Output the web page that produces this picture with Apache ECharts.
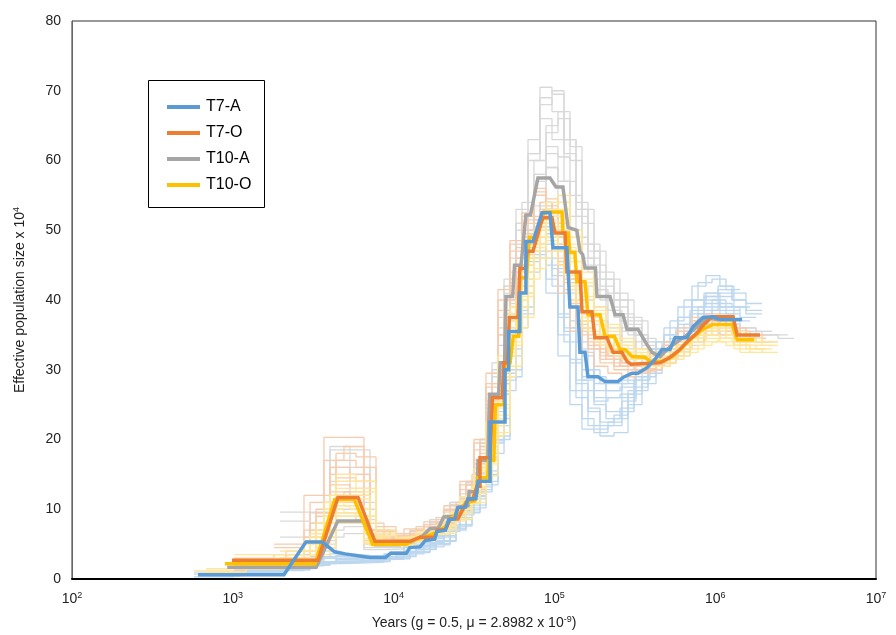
<!DOCTYPE html>
<html><head><meta charset="utf-8">
<script src="https://cdn.jsdelivr.net/npm/echarts@6/dist/echarts.min.js"></script>
<style>html,body{margin:0;padding:0;background:#fff}#c{width:896px;height:635px}</style>
</head><body><div id="c"></div>
<script>
// ---------- DATA ----------
const seriesNames = ['T7-A', 'T7-O', 'T10-A', 'T10-O'];
const xTickExponents = [2, 3, 4, 5, 6, 7];
const yTicks = [0, 10, 20, 30, 40, 50, 60, 70, 80];

// main PSMC curves: [years, Ne x 10^4]
const t7A = [[608,0.6],[2080,0.6],[2850,5.3],[3600,5.3],[4300,3.9],[5000,3.6],[7100,3.1],[8900,3.1],[9600,3.7],[12000,3.7],[12600,4.5],[14600,4.6],[15700,5.5],[18000,5.7],[18600,6.8],[21000,7.0],[22000,8.5],[24000,8.6],[25100,10.2],[28000,10.3],[29000,11.5],[32500,11.5],[33500,14.0],[39800,14.0],[39800,22.5],[49300,22.5],[49300,30],[52000,30],[52000,35.5],[61000,35.5],[61000,41],[66500,41],[66500,48.4],[73600,48.4],[83800,52.5],[93900,52.5],[98000,47.5],[119700,47.5],[124900,39],[140200,39],[144100,32.5],[155000,32.5],[161700,29],[186600,29],[206400,28.3],[248600,28.3],[267000,28.9],[304000,29.5],[331000,29.5],[376400,30.3],[422500,31.5],[466900,32.9],[523800,32.9],[562300,34.6],[668100,34.6],[728100,36.2],[839900,37.5],[968700,37.6],[1071000,37.2],[1469000,37.2]];
const t7O = [[988,2.7],[3390,2.7],[4508,11.7],[6009,11.7],[7659,5.4],[12650,5.4],[14600,6.0],[18000,6.0],[18700,7.0],[21000,7.1],[22500,8.6],[25100,8.6],[29000,11.4],[31000,11.4],[33000,13.3],[34470,13.3],[34470,17.4],[39810,17.4],[41200,26],[47400,26],[48500,31],[51000,31],[52500,37.5],[59400,37.5],[61000,44.5],[66000,44.5],[67500,47],[73600,47],[81300,50.5],[84900,51.8],[96600,51.8],[100900,49.6],[116400,49.6],[119700,44],[144100,44],[148500,38.3],[171300,38.3],[178600,34.6],[212200,34.6],[231400,32.5],[263000,32.5],[282600,31.2],[300000,30.8],[454000,31],[523800,31.8],[604300,32.9],[668100,34],[771700,35.3],[828300,36.2],[955600,37.6],[1291000,37.6],[1370000,35],[1899000,35]];
const t10A = [[923,1.7],[3300,1.7],[4500,8.3],[6460,8.3],[7660,4.9],[10970,4.9],[13000,5.4],[15200,6.2],[16800,7.2],[19000,7.3],[20500,8.9],[24000,9.0],[25100,10.3],[29000,10.5],[29500,12.5],[33000,12.5],[33500,17],[38500,17],[39500,26.5],[45000,26.5],[46000,31],[49000,31],[50000,40.5],[55000,40.5],[56500,45],[62000,45],[66500,52.2],[71000,52.2],[79000,57.5],[93900,57.5],[102300,56.2],[113000,56.2],[121600,50.4],[138000,50],[144100,47],[150000,46.5],[155000,44.6],[180000,44.6],[184000,40.5],[221800,40.5],[238300,37.9],[267000,37.9],[282600,35.8],[331000,35.8],[376400,33.6],[404800,32.5],[454000,31.9],[523800,33.3],[668100,35],[804200,36.5],[901000,37.5],[1025000,37.2],[1327000,37.2]];
const t10O = [[893,2.2],[3250,2.2],[4300,11.4],[5700,11.4],[7400,5.0],[12000,5.0],[13500,5.6],[16000,6.1],[18500,6.7],[21000,7.5],[23000,8.8],[26000,9.5],[28000,11],[32000,11.2],[33500,14.5],[38500,14.5],[39000,17],[42000,17],[43000,25],[48500,25],[49500,31],[53000,31],[55500,34.8],[60000,34.8],[61000,43.2],[67000,43.2],[70000,49],[78000,49],[86000,52.6],[111500,52.6],[113000,49.6],[121600,49.6],[124900,46.8],[134000,46.8],[138000,42.6],[155000,42.6],[161700,37.9],[192200,37.9],[206400,34.8],[236000,34.8],[255900,32.9],[274800,32.9],[304000,31.9],[365700,31.8],[393500,31.2],[473600,31.2],[545400,31.9],[629800,33.3],[697200,34.3],[839900,35.8],[968700,36.5],[1273000,36.5],[1370000,34.3],[1750000,34.3]];

// bootstrap time grids (years, interval boundaries)
const gridA = [625,1109,1966,3022,4022,5355,7132,9497,12650,16840,22420,28200,34460,40930,48610,57700,68520,81350,96620,114700,136200,161800,192100,234800,286900,350500,428400,523700,639700,782000,955600,1167000,1426000,1794000,2256000,2837000];
const gridB = [681,1209,2143,3294,4384,5837,7774,10350,13790,18360,24440,30740,37560,44610,52980,62890,74690,88670,105300,125000,148500,176400,209400,255900,312700,382000,466900,570800,697300,852400,1042000,1272000,1554000,1956000,2459000,3092000];
const gridC = [573,1017,1803,2771,3688,4911,6540,8709,11600,15440,20560,25860,31600,37530,44580,52910,62830,74600,88600,105200,124900,148400,176200,215300,263100,321400,392800,480200,586600,717100,876300,1070000,1308000,1645000,2069000,2601000];

// bootstrap Ne values per interval
const bootT7A = [
[0.5,0.9,1.5,2.2,2.6,2.7,2.8,3.2,4.2,5.4,7.6,10.2,13.5,20,29,38,46,50,44,36,29,25,23,24,27,29.5,32,34.5,37,39.5,41,40],
[null,1.2,1.8,2.6,3.0,3.1,3.0,3.5,4.5,5.8,8.2,11,14.5,21.5,31,40,47.5,51,46,38,31,27,25.5,26,28,30,33,36,39,42,43.5,42,39],
[0.8,1.0,1.4,2.0,2.3,2.4,2.5,2.9,3.8,4.9,7,9.5,12.5,18,27,36,44,48,42,34,26,22,20.5,21,25,28,31,33.5,35.5,38,39,38.5],
[null,null,2.0,3.0,3.4,3.3,3.2,3.8,4.8,6.2,8.8,11.8,15.5,23,33,42,49,53,48,40,33,29,27,27.5,29,31,33.5,36,38.5,40.5,41.5,40,38.5],
[0.3,0.7,1.2,1.9,2.2,2.3,2.4,2.8,3.6,4.6,6.8,9.2,12,17.5,26.5,35,43,47,41,32,25,21.5,21,22.5,26,29.5,32.5,35,37.5,40,40.5,39,37],
[null,1.4,2.2,3.2,3.6,3.4,3.3,3.9,5,6.4,9,12.3,16,24,34,43,50,54,49,41,34,30,28,28,29.5,31.5,34,37,40,42.5,43,41.5],
[0.6,1.1,1.6,2.4,2.8,2.9,2.9,3.3,4.3,5.5,7.8,10.6,14,20.5,30,39,46.5,49.5,45,37,30,26,24,24.5,27.5,30,32,34,36,38.5,39.5,39,38],
[null,0.9,1.5,2.3,2.5,2.6,2.7,3.1,4.0,5.2,7.4,9.8,13,19,28,37,45,48,43,35,27,23,21.5,22,25.5,28.5,31.5,34,36.5,39,40,38],
[0.4,0.8,1.3,2.0,2.4,2.5,2.6,3.0,3.9,5.0,7.2,9.6,12.8,19.5,28.5,37.5,45.5,49,43.5,35.5,28,24,22,23,26.5,29,31,33,35,37.5,38.5,38],
[null,1.0,1.7,2.5,2.9,3.0,3.1,3.6,4.6,6.0,8.5,11.5,15,22,32,41,48,52,47,39,32,28,26,26.5,28.5,30.5,33,35.5,38,41,42,41,39.5],
[0.7,1.3,2.0,2.8,3.2,3.2,3.1,3.6,4.7,6.1,8.6,11.6,15.2,22.5,33.5,42.5,49.5,51.5,45,37.5,31.5,28.5,27,27,28.5,30.5,32.5,35,37.5,40,41,40.5],
[null,null,1.3,2.1,2.4,2.5,2.6,3.0,3.9,5.1,7.3,9.9,13.2,19.8,29.5,38.5,46,50.5,44.5,36,28.5,24.5,22.5,23.5,27,30,32.5,34.5,36.5,39,40,39,37.5]
];
const bootT7O = [
[null,2.0,2.5,12,20.3,20.3,7,6,6.5,7.8,10,13.5,19.5,28,40,48,52,55,52,45,39,35,33,32,31,31,32,33.5,35.5,37,37.5,36.5,35,34.5],
[null,1.5,2,8,15,14,6,5.5,6.2,7.2,9.5,12.5,18,26.5,38,46,50,53,50,43,37,34,32,31,30.5,30.5,31.5,33,35,36.5,37,36,34.5],
[1.2,1.8,3.5,10,17,16,7,6.2,7,8,10.5,14,20,29,41,48,51,53.5,49,42,36,33,31.5,30.5,30,30,31,32.5,34,35.5,36,35,34],
[null,null,4.5,6,12,12.5,6.5,5.8,6.5,7.5,9.8,12.8,18.5,27.5,38.5,47,51,56,53,46,40,36,34,32.5,31.5,31.5,32.5,34,36,37.5,38,37,35.5,35],
[null,2.5,3,7,13.5,13,6,5.2,6,7,9.2,12,17,25.5,36,44,48.5,51,48,41.5,36,33,31,30,29.5,29.8,30.5,32,34,35.5,36.5,35.5,34],
[null,null,2.2,9,18,17.5,7.5,6.5,7.5,8.8,11,15,21,30,42,49,52,54.5,51,44,38,34.5,32.5,31.5,31,31,32,33.5,35,36.5,37,36,35,34],
[null,3,3.5,5.5,11,11,5.5,5,5.8,6.8,8.8,11.5,16.5,24.5,35,43,47,50,47,41,35.5,32.5,30.5,29.5,29,29.5,30.5,32,33.5,35,35.5,35,33.5],
[null,2.2,3,11,16,15,7,6,6.8,7.8,10,13.5,19,28,40,47.5,51.5,54,51,44,38.5,34.5,32.5,31.5,30.5,30.5,31.5,33,35,36.5,37,36,34.5,34],
[1.5,2.5,4,9.5,14.5,14,6.8,5.8,6.5,7.5,9.6,12.8,18,27,39,46.5,50.5,52.5,49.5,43,37,33.5,31.5,30.5,30,30,31,32.5,34.5,36,36.5,35.5,34],
[null,null,5,7,17,19,8,6.5,7.2,8.2,10.5,14,20,29.5,41.5,48.5,52.5,55.5,52.5,45.5,39.5,35.5,33.5,32,31,31,32,33.5,35.5,37,37.5,36.5,35],
[null,1.8,2.6,6.5,12.5,12,6.2,5.6,6.3,7.3,9.4,12.3,17.5,26,37.5,45,49.5,52,49,42.5,36.5,33.5,31.5,30.5,30,30.2,31,32.5,34.5,36,36.5,35.5,34.5]
];
const bootT10A = [
[null,1.5,2.0,6,18.5,18.5,6.0,5.5,6.5,8.0,10.5,13.5,19,29,41,50,60,68,70,63,53,47,43,40,36.5,33.5,32,33,34.5,36,37,36.5,35.5,35,35],
[null,null,2.5,4.5,10,10,5.5,5.2,6,7.6,10,12.8,18,28,39.5,48,57,64,66,60,51,45,41,38,35,33,31.5,32.5,34,35.5,36.5,36,35],
[1.0,1.2,1.5,3.5,7,7.5,4.5,4.5,5.5,7,9.2,11.8,16.5,25.5,36,44,52,58,59,54,47,42,39,36,34,32,31,32,33.5,35,35.5,35,34,34.5],
[null,null,9.6,9.6,14,12,6.5,6,7,8.5,11,14,20,30,42,51,61,66,63,57,49,44,40,37.5,35,33,32,33.5,35.5,37,37.5,36.5,36],
[null,2,2.2,5,9,8.5,5,5,6,7.5,9.8,12.5,17.5,27,39,47,55,61,60.5,55,48,43,40,37,35,33,31.5,32.5,34,35.5,36,35.5,35,35,34.5],
[null,null,1.8,3,6,6.5,4.2,4.3,5.3,6.8,9,11.5,16,25,35,43,50,55,54,50,44,40,37,35,33,31.5,30.5,31.5,33,34.5,35,34.5,34],
[null,null,8.3,9.5,19,16,7,6,7,8.5,11,14,20,31,43,53,63,69,67,61,52,46,42,39,36,34,32.5,33.5,35,36.5,37.5,37,36,35.5],
[null,null,3,5.5,12,11,6,5.5,6.5,8,10.3,13,18.5,28.5,40,49,58,65,67,62,53,47,43,40,37,34,32.5,33,34.5,36,36.5,36,35.5,35],
[null,1.8,2.2,4,8,8,5,5,6,7.5,9.6,12.2,17,26.5,37.5,46,54,60,62,57,50,45,41.5,38.5,35.5,33,31.5,32.5,34,35.5,36,35.5,35],
[null,null,6,8,16,15,6.5,5.8,6.8,8.2,10.7,13.8,19.5,29.5,42,51,61,70.5,69.5,63,54,48,44,41,37.5,34.5,33,33.5,35,36.5,37,36.5,36,35.5],
[null,null,2,4,9.5,9,5.2,5,6,7.4,9.6,12.3,17.2,26.5,38,46,53.5,59,57,52,46,41.5,38.5,36,34,32.5,31,32,33.5,35,35.5,35,34.5]
];
const bootT10O = [
[null,1.5,2,5,12,12,6,5.5,6,7,9.5,12,16,23,33,40,47,51,52,47,42,37.5,35,33,32,31.5,31.5,32.5,34,35,35.5,35,33.5,33],
[1.0,1.5,2.5,7,14,13,6.5,5.8,6.5,7.5,10,13,17,24.5,34,41,48,53,54,49,43,38.5,36,34,33,32.5,32.5,33.5,35,36,36.5,35.5,34.5,34],
[null,2.5,3,4,9,9,5,5,5.5,6.5,8.5,11,14.5,21,30,37,44,48,49,45,40,36,34,32.5,31.5,31,31,32,33,34,34.5,34,33,32.5],
[null,null,4,6,10.5,10,5.5,5.3,6,7,9,11.5,15.5,22,32,39,46,50,50.5,46,41,37,34.5,33,32,31.5,31.5,32.5,34,35,35.5,34.5,33.5,33.5],
[1.5,2,2.2,8,15,14,7,6,6.8,7.8,10.2,13.2,17.5,25,35,42,49,54,55,50,44,39,36.5,34.5,33,32.5,32.5,33.5,35,36,36,35,34],
[null,3.5,3.5,5,10,9.5,5.2,5,5.6,6.6,8.8,11.2,15,21.5,31,38,45,49,51,47,41.5,37,35,33,32,31.5,31.5,32.5,34,35,35,34.5,33.5,33],
[null,null,1.8,3.5,8,8,4.8,4.8,5.4,6.4,8.3,10.8,14,20.5,29,36,43,46,47,43.5,39,35.5,33.5,32,31,30.5,30.5,31.5,32.5,33.5,34,33.5,32.5],
[null,2,2.5,6,13,12.5,6.2,5.5,6.2,7.2,9.6,12.3,16.5,23.5,33.5,40.5,47.5,52,53,48,42.5,38,35.5,33.5,32.5,32,32,33,34.5,35.5,36,35,34,33.5],
[1.2,1.8,2.8,5.5,11,10.5,5.8,5.4,6,7,9.2,11.8,15.8,22.5,32,39,46,50,51.5,47.5,42,37.5,35,33,32,31.5,31.5,32.5,33.5,34.5,35,34.5,33.5,33],
[null,null,3,6.5,12,11.5,6,5.5,6.1,7.2,9.4,12,16,23,32.5,40,47,51.5,52.5,47.5,42,37.5,35,33.5,32.5,32,32,33,34.5,35.5,36,35,34],
[null,2.8,3,4.5,9.5,9,5,4.9,5.5,6.5,8.6,11,14.8,21,30.5,37.5,44.5,48.5,49.5,45.5,40.5,36.5,34.5,32.5,31.5,31,31,32,33,34,34.5,34,33,32.5]
];

// ---------- STYLE ----------
const FONT = '"Liberation Sans", Arial, sans-serif';
const mainColors = ['#5B9BD5', '#ED7D31', '#A5A5A5', '#FFC000'];
const bootColors = ['#BDD7EE', '#F8CBAD', '#D9D9D9', '#FFE699'];
const grids = [gridA, gridB, gridC];

// turn per-interval values into step corners
function stepCorners(grid, vals) {
  const out = [];
  for (let i = 0; i < vals.length; i++) {
    if (vals[i] == null) continue;
    out.push([grid[i], vals[i]]);
    out.push([grid[i + 1], vals[i]]);
  }
  return out;
}

const series = [];
function addBoots(list, color, off) {
  list.forEach((v, k) => {
    series.push({
      type: 'line', name: '_b', data: stepCorners(grids[(k + off) % 3], v),
      symbol: 'none', silent: true, z: 1,
      lineStyle: { color: color, width: 1.3 }
    });
  });
}
addBoots(bootT10A, bootColors[2], 0);
addBoots(bootT7A, bootColors[0], 1);
addBoots(bootT7O, bootColors[1], 2);
addBoots(bootT10O, bootColors[3], 0);

const mains = [[2, t10A], [3, t10O], [1, t7O], [0, t7A]];
mains.forEach(([i, d]) => {
  series.push({
    type: 'line', name: seriesNames[i], data: d, symbol: 'none', z: 3,
    color: mainColors[i],
    lineStyle: { color: mainColors[i], width: 3.5, join: 'miter' }
  });
});

const chart = echarts.init(document.getElementById('c'), null, { renderer: 'canvas' });
chart.setOption({
  animation: false,
  backgroundColor: '#fff',
  grid: { left: 72, right: 20, top: 21, bottom: 55, show: true, borderColor: '#333', borderWidth: 1 },
  legend: {
    data: seriesNames.map(n => ({ name: n, icon: 'rect' })),
    orient: 'vertical', left: 162, top: 93, itemWidth: 33, itemHeight: 4, itemGap: 8,
    textStyle: { fontFamily: FONT, fontSize: 16, lineHeight: 18, color: '#000', padding: [0, 0, 0, 1] }
  },
  graphic: [{ type: 'rect', shape: { x: 148.5, y: 80.5, width: 116, height: 127 }, style: { fill: 'none', stroke: '#000', lineWidth: 1 }, z: 0 }],
  xAxis: {
    type: 'log', logBase: 10, min: Math.pow(10, xTickExponents[0]), max: Math.pow(10, xTickExponents[xTickExponents.length - 1]),
    splitNumber: 5,
    axisLine: { lineStyle: { color: '#000', width: 2 } },
    axisTick: { show: false }, splitLine: { show: false }, minorTick: { show: false },
    axisLabel: {
      margin: 12,
      formatter: v => '{b|10}{s|' + Math.round(Math.log10(v)) + '}',
      rich: {
        b: { fontFamily: FONT, fontSize: 14, color: '#222', lineHeight: 16 },
        s: { fontFamily: FONT, fontSize: 9, color: '#222', lineHeight: 9, verticalAlign: 'top' }
      }
    },
    name: '{t|Years (g = 0.5, μ = 2.8982 x 10}{s|-9}{t|)}',
    nameLocation: 'middle', nameGap: 36,
    nameTextStyle: {
      rich: {
        t: { fontFamily: FONT, fontSize: 14, color: '#222', lineHeight: 16 },
        s: { fontFamily: FONT, fontSize: 9, color: '#222', lineHeight: 9, verticalAlign: 'top' }
      }
    }
  },
  yAxis: {
    type: 'value', min: yTicks[0], max: yTicks[yTicks.length - 1], interval: 10,
    axisLine: { show: true, lineStyle: { color: '#666', width: 1 } },
    axisTick: { show: false }, splitLine: { show: false },
    axisLabel: { margin: 11, fontFamily: FONT, fontSize: 14, color: '#222' },
    name: '{t|Effective population size x 10}{s|4}',
    nameLocation: 'middle', nameGap: 44, nameRotate: 90,
    nameTextStyle: {
      rich: {
        t: { fontFamily: FONT, fontSize: 14, color: '#222', lineHeight: 16 },
        s: { fontFamily: FONT, fontSize: 9, color: '#222', lineHeight: 9, verticalAlign: 'top' }
      }
    }
  },
  series: series
});
</script></body></html>
